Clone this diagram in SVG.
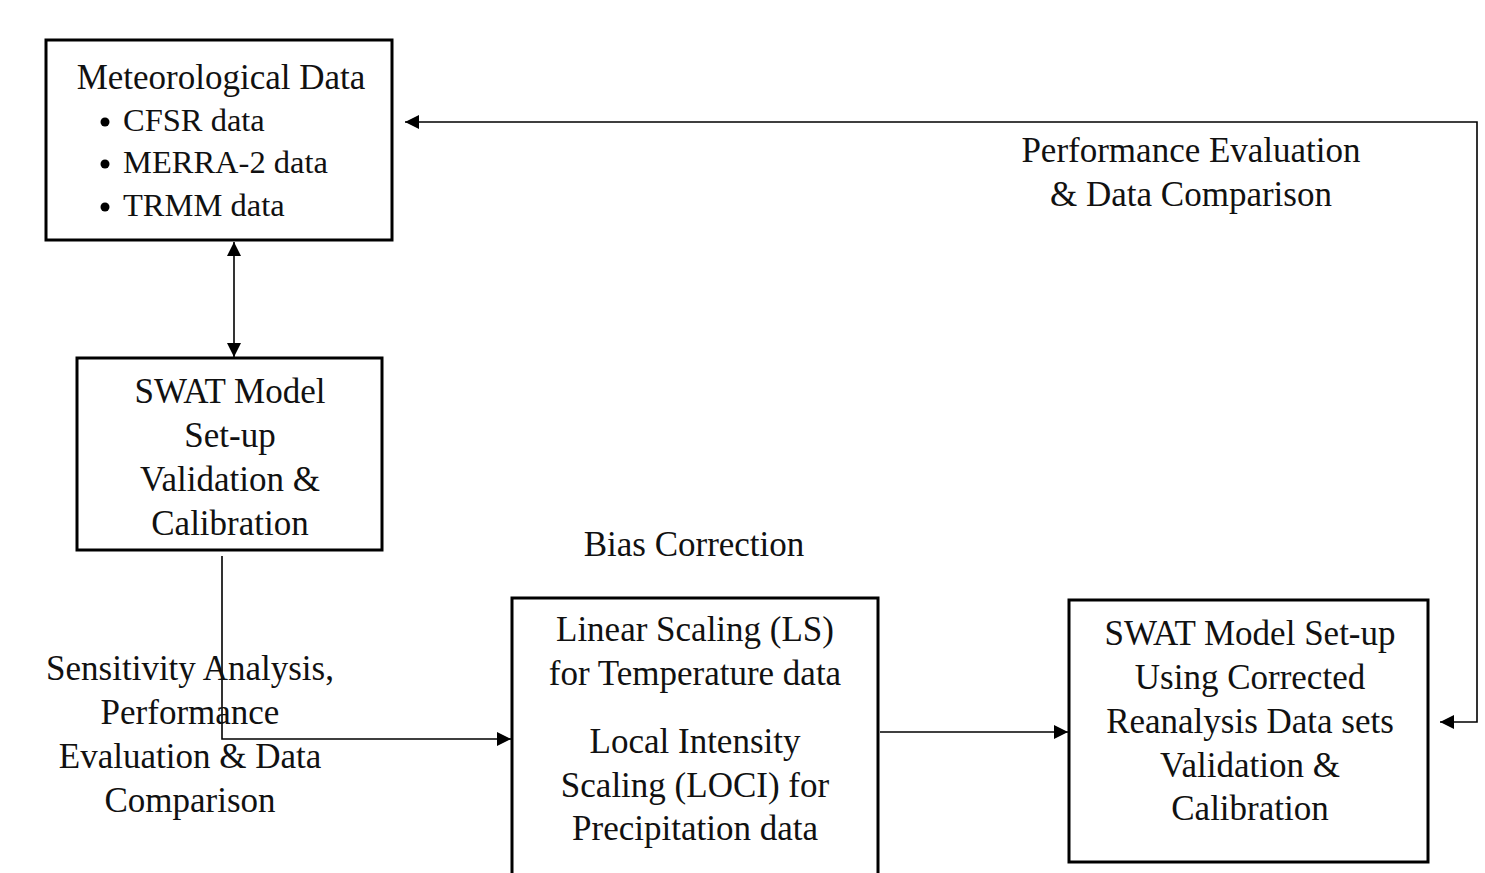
<svg xmlns="http://www.w3.org/2000/svg" width="1485" height="873" viewBox="0 0 1485 873">
<style>
.box{fill:#fff;stroke:#000;stroke-width:3}
.t{font-family:"Liberation Serif","Times New Roman",serif;font-size:35px;fill:#111}
.b{font-size:32.5px}
.c{text-anchor:middle}
.ln{fill:none;stroke:#000;stroke-width:1.6}
</style>
<defs>
<marker id="ah" viewBox="0 0 10 10" refX="10" refY="5" markerWidth="15" markerHeight="14" markerUnits="userSpaceOnUse" orient="auto-start-reverse">
<path d="M0,0 L10,5 L0,10 Z" fill="#000"/>
</marker>
</defs>
<rect width="1485" height="873" fill="#fff"/>
<g id="connectors">
<line class="ln" x1="234" y1="242" x2="234" y2="357" marker-start="url(#ah)" marker-end="url(#ah)"/>
<polyline class="ln" points="222,556 222,739 511,739" marker-end="url(#ah)"/>
<line class="ln" x1="880" y1="732" x2="1068" y2="732" marker-end="url(#ah)"/>
<polyline class="ln" points="1440,722 1477,722 1477,122 405,122" marker-start="url(#ah)" marker-end="url(#ah)"/>
</g>
<g id="meteo">
<rect class="box" x="46" y="40" width="346" height="200"/>
<text class="t c" x="221" y="89">Meteorological Data</text>
<circle cx="105" cy="122" r="4.5"/>
<circle cx="105" cy="164" r="4.5"/>
<circle cx="105" cy="207" r="4.5"/>
<text class="t b" x="123" y="131">CFSR data</text>
<text class="t b" x="123" y="173">MERRA-2 data</text>
<text class="t b" x="123" y="216">TRMM data</text>
</g>
<g id="swat1">
<rect class="box" x="77" y="358" width="305" height="192"/>
<text class="t c" x="230" y="403">SWAT Model</text>
<text class="t c" x="230" y="447">Set-up</text>
<text class="t c" x="230" y="491">Validation &amp;</text>
<text class="t c" x="230" y="535">Calibration</text>
</g>
<g id="sensitivity-label">
<text class="t c" x="190" y="680">Sensitivity Analysis,</text>
<text class="t c" x="190" y="724">Performance</text>
<text class="t c" x="190" y="768">Evaluation &amp; Data</text>
<text class="t c" x="190" y="812">Comparison</text>
</g>
<g id="bias-label">
<text class="t c" x="694" y="556">Bias Correction</text>
</g>
<g id="biascorr">
<rect class="box" x="512" y="598" width="366" height="290"/>
<text class="t c" x="695" y="641">Linear Scaling (LS)</text>
<text class="t c" x="695" y="685">for Temperature data</text>
<text class="t c" x="695" y="753">Local Intensity</text>
<text class="t c" x="695" y="797">Scaling (LOCI) for</text>
<text class="t c" x="695" y="840">Precipitation data</text>
</g>
<g id="swat2">
<rect class="box" x="1069" y="600" width="359" height="262"/>
<text class="t c" x="1250" y="645">SWAT Model Set-up</text>
<text class="t c" x="1250" y="689">Using Corrected</text>
<text class="t c" x="1250" y="733">Reanalysis Data sets</text>
<text class="t c" x="1250" y="777">Validation &amp;</text>
<text class="t c" x="1250" y="820">Calibration</text>
</g>
<g id="perf-label">
<text class="t c" x="1191" y="162">Performance Evaluation</text>
<text class="t c" x="1191" y="206">&amp; Data Comparison</text>
</g>
</svg>
